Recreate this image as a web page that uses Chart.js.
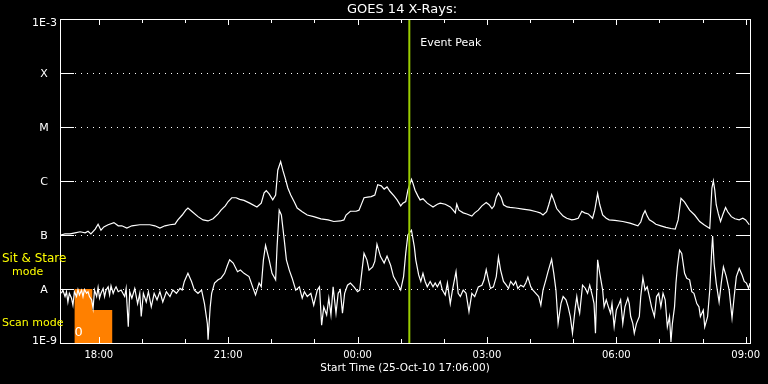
<!DOCTYPE html>
<html>
<head>
<meta charset="utf-8">
<title>GOES 14 X-Rays</title>
<script src="https://cdn.jsdelivr.net/npm/chart.js@4.4.1/dist/chart.umd.min.js"></script>
<style>
  html, body { margin: 0; padding: 0; background: #000; }
  canvas { display: block; }
</style>
</head>
<body>
<canvas id="goesChart" width="768" height="384"></canvas>
<script>
// times are minutes after 25-Oct-10 17:06:00, values are log10 of the flux (W/m2)
const longTimes = [
  1, 7, 14, 21, 28, 35, 39, 43, 49, 53,
  57, 61, 67, 75, 81, 86, 93, 100, 111, 125,
  132, 139, 146, 153, 160, 164, 170, 175, 178, 184,
  192, 199, 206, 213, 220, 224, 230, 234, 239, 245,
  250, 256, 264, 274, 280, 284, 287, 291, 296, 300,
  303, 307, 310, 314, 317, 321, 326, 330, 337, 344,
  353, 363, 373, 381, 390, 395, 398, 404, 412, 416,
  420, 423, 428, 433, 438, 442, 447, 451, 455, 459,
  465, 469, 474, 477, 481, 484, 489, 491, 494, 498,
  501, 505, 511, 519, 525, 529, 536, 543, 547, 550,
  552, 555, 561, 566, 573, 577, 582, 587, 593, 597,
  601, 604, 607, 610, 614, 617, 622, 626, 634, 644,
  654, 663, 668, 672, 677, 680, 684, 687, 691, 696,
  700, 705, 712, 716, 721, 726, 730, 735, 741, 744,
  748, 751, 755, 760, 764, 772, 783, 793, 804, 808,
  811, 814, 817, 820, 825, 829, 836, 843, 850, 856,
  860, 864, 869, 876, 883, 890, 896, 904, 905, 907,
  909, 911, 913, 916, 919, 922, 926, 929, 934, 939,
  945, 950, 954, 959
];
const longFlux = [
  -7.00, -6.98, -6.98, -6.96, -6.94, -6.96, -6.93, -6.98, -6.89, -6.80,
  -6.91, -6.85, -6.81, -6.77, -6.83, -6.83, -6.87, -6.83, -6.81, -6.81,
  -6.83, -6.87, -6.83, -6.81, -6.80, -6.72, -6.63, -6.54, -6.50, -6.57,
  -6.66, -6.72, -6.74, -6.70, -6.61, -6.54, -6.46, -6.38, -6.31, -6.31,
  -6.34, -6.36, -6.41, -6.48, -6.41, -6.22, -6.18, -6.24, -6.35, -6.26,
  -5.80, -5.64, -5.80, -5.98, -6.13, -6.26, -6.39, -6.50, -6.57, -6.63,
  -6.66, -6.70, -6.72, -6.75, -6.74, -6.72, -6.63, -6.56, -6.56, -6.54,
  -6.41, -6.31, -6.30, -6.29, -6.26, -6.07, -6.09, -6.15, -6.11, -6.19,
  -6.28, -6.35, -6.46, -6.41, -6.38, -6.17, -5.97, -6.04, -6.17, -6.28,
  -6.35, -6.33, -6.41, -6.48, -6.43, -6.41, -6.43, -6.48, -6.54, -6.59,
  -6.43, -6.54, -6.59, -6.61, -6.65, -6.59, -6.54, -6.46, -6.40, -6.44,
  -6.51, -6.46, -6.30, -6.22, -6.31, -6.44, -6.48, -6.49, -6.50, -6.52,
  -6.54, -6.57, -6.59, -6.63, -6.57, -6.44, -6.25, -6.35, -6.51, -6.59,
  -6.65, -6.69, -6.72, -6.71, -6.69, -6.56, -6.59, -6.61, -6.69, -6.54,
  -6.23, -6.44, -6.63, -6.69, -6.72, -6.73, -6.75, -6.78, -6.83, -6.76,
  -6.63, -6.55, -6.65, -6.72, -6.76, -6.80, -6.83, -6.86, -6.88, -6.89,
  -6.72, -6.32, -6.39, -6.54, -6.63, -6.75, -6.81, -6.88, -6.63, -6.13,
  -6.00, -6.17, -6.44, -6.61, -6.75, -6.63, -6.49, -6.57, -6.66, -6.70,
  -6.72, -6.69, -6.72, -6.81
];

const shortTimes = [
  2, 4, 7, 9, 11, 13, 16, 18, 20, 23,
  25, 27, 30, 32, 34, 37, 39, 41, 44, 46,
  48, 51, 53, 55, 57, 60, 62, 64, 67, 69,
  71, 74, 76, 78, 81, 85, 90, 92, 95, 97,
  100, 104, 108, 111, 113, 116, 120, 123, 127, 131,
  135, 139, 143, 148, 153, 157, 162, 167, 170, 173,
  178, 183, 187, 192, 197, 201, 205, 206, 209, 211,
  215, 220, 224, 229, 233, 236, 241, 247, 251, 256,
  263, 268, 272, 277, 280, 283, 286, 291, 295, 300,
  302, 305, 308, 312, 315, 319, 323, 328, 333, 337,
  340, 344, 349, 353, 358, 361, 364, 367, 371, 374,
  377, 380, 384, 387, 390, 393, 396, 400, 404, 409,
  414, 417, 423, 427, 430, 435, 438, 441, 446, 451,
  455, 460, 464, 469, 474, 478, 481, 484, 489, 493,
  495, 499, 502, 505, 508, 511, 515, 519, 522, 525,
  529, 532, 536, 539, 543, 546, 551, 554, 557, 561,
  565, 569, 573, 577, 582, 587, 590, 593, 596, 599,
  603, 607, 610, 613, 617, 621, 624, 627, 631, 634,
  637, 641, 645, 648, 651, 655, 658, 662, 666, 669,
  672, 676, 679, 684, 687, 690, 693, 697, 700, 704,
  707, 710, 713, 717, 719, 721, 723, 727, 731, 734,
  737, 741, 743, 745, 748, 751, 755, 757, 760, 763,
  766, 768, 771, 774, 778, 780, 783, 786, 790, 792,
  794, 797, 799, 802, 806, 808, 811, 814, 817, 820,
  823, 827, 830, 833, 836, 839, 842, 845, 848, 850,
  852, 855, 857, 859, 862, 865, 869, 872, 876, 879,
  882, 886, 889, 891, 895, 897, 901, 904, 907, 908,
  910, 913, 917, 920, 923, 927, 931, 935, 938, 941,
  945, 949, 952, 955, 958, 960
];
const shortFlux = [
  -8.08, -8.02, -8.14, -8.05, -8.24, -8.08, -8.17, -8.30, -8.05, -8.14,
  -8.01, -8.11, -8.02, -8.14, -8.01, -8.08, -8.05, -8.14, -8.20, -8.36,
  -8.02, -8.14, -7.97, -8.17, -8.08, -7.99, -8.14, -8.02, -7.96, -8.11,
  -7.94, -8.08, -8.01, -7.96, -8.05, -8.02, -8.14, -7.99, -8.70, -8.05,
  -8.17, -7.99, -8.27, -8.08, -8.51, -8.08, -8.24, -8.05, -8.33, -8.08,
  -8.20, -8.05, -8.24, -8.05, -8.14, -8.02, -8.08, -7.99, -8.02, -7.86,
  -7.71, -7.86, -8.02, -8.08, -8.02, -8.27, -8.64, -8.94, -8.33, -8.08,
  -7.89, -7.83, -7.80, -7.71, -7.56, -7.46, -7.52, -7.68, -7.65, -7.71,
  -7.77, -7.96, -8.11, -7.89, -7.96, -7.46, -7.19, -7.46, -7.71, -7.83,
  -7.22, -6.54, -6.63, -7.09, -7.46, -7.65, -7.80, -8.02, -7.96, -8.17,
  -8.05, -8.14, -8.08, -8.30, -8.02, -7.96, -8.67, -8.33, -8.48, -8.17,
  -8.48, -7.96, -8.45, -8.08, -8.02, -8.45, -8.08, -7.93, -7.89, -7.96,
  -8.05, -8.02, -7.34, -7.46, -7.65, -7.59, -7.49, -7.17, -7.40, -7.52,
  -7.39, -7.56, -7.77, -7.89, -8.02, -7.77, -7.34, -7.00, -6.91, -7.22,
  -7.46, -7.74, -7.86, -7.71, -7.86, -7.96, -7.86, -7.96, -7.89, -7.96,
  -7.86, -8.02, -8.11, -7.89, -8.27, -8.02, -7.68, -8.08, -8.14, -8.02,
  -8.08, -8.42, -8.08, -8.14, -7.96, -7.93, -7.83, -7.64, -7.83, -7.99,
  -7.96, -7.77, -7.41, -7.65, -7.86, -7.93, -7.99, -7.86, -7.93, -7.86,
  -7.99, -7.93, -7.96, -7.89, -7.78, -7.96, -8.02, -8.08, -8.14, -8.30,
  -8.02, -7.83, -7.68, -7.45, -7.71, -8.02, -8.64, -8.27, -8.14, -8.20,
  -8.33, -8.51, -8.82, -8.33, -8.14, -8.33, -8.45, -7.93, -7.99, -8.08,
  -7.93, -8.14, -8.27, -8.82, -7.46, -7.71, -8.02, -8.33, -8.20, -8.33,
  -8.45, -8.27, -8.70, -8.39, -8.27, -8.20, -8.64, -8.33, -8.17, -8.27,
  -8.51, -8.64, -8.82, -8.64, -8.51, -8.14, -7.79, -8.02, -7.96, -8.14,
  -8.33, -8.51, -8.14, -8.08, -8.33, -8.08, -8.20, -8.70, -8.51, -8.98,
  -8.64, -8.33, -7.89, -7.59, -7.28, -7.34, -7.71, -7.80, -7.83, -8.05,
  -8.08, -8.27, -8.33, -8.51, -8.39, -8.70, -8.51, -8.02, -7.22, -7.02,
  -7.52, -7.89, -8.24, -7.89, -7.59, -7.77, -8.02, -8.54, -8.14, -7.77,
  -7.62, -7.74, -7.86, -7.89, -7.99, -7.89
];

// scan mode block at the start of the period
const scanTimes = [20, 45, 73];
const scanFlux = [-8.0, -8.39, -8.39];

const eventPeak = 486; // 01:12

const hourTicks = [54, 114, 174, 234, 294, 354, 414, 474, 534, 594, 654, 714, 774, 834, 894, 954];
const timeTicks = [54, 234, 414, 594, 774, 954];
const timeLabels = ['18:00', '21:00', '00:00', '03:00', '06:00', '09:00'];

const fluxLevels = [-9, -8, -7, -6, -5, -4, -3];
const fluxLabels = ['1E-9', 'A', 'B', 'C', 'M', 'X', '1E-3'];

const toPoints = (xs, ys) => xs.map((t, i) => ({ x: t, y: ys[i] }));

const goesFrame = {
    id: 'goesFrame',
    beforeDraw(chart) {
        const ctx = chart.ctx;
        ctx.save();
        ctx.fillStyle = '#000';
        ctx.fillRect(0, 0, chart.width, chart.height);
        ctx.restore();
    },
    beforeDatasetsDraw(chart) {
        const { ctx, chartArea: a, scales: { y } } = chart;
        ctx.save();
        ctx.strokeStyle = '#fff';
        ctx.lineWidth = 1;
        ctx.setLineDash([1, 5]);
        fluxLevels.slice(1, -1).forEach(lv => {
            const py = Math.round(y.getPixelForValue(lv)) + 0.5;
            ctx.beginPath();
            ctx.moveTo(a.left + 15, py);
            ctx.lineTo(a.right - 15, py);
            ctx.stroke();
        });
        ctx.restore();
    },
    afterDatasetsDraw(chart) {
        const { ctx, chartArea: a, scales: { x, y } } = chart;
        ctx.save();

        // event peak marker
        const ex = x.getPixelForValue(eventPeak);
        ctx.strokeStyle = '#9acd00';
        ctx.lineWidth = 2;
        ctx.beginPath();
        ctx.moveTo(ex, a.top);
        ctx.lineTo(ex, a.bottom);
        ctx.stroke();

        // frame
        ctx.strokeStyle = '#fff';
        ctx.lineWidth = 1;
        ctx.strokeRect(a.left + 0.5, a.top + 0.5, a.right - a.left, a.bottom - a.top);

        // time ticks, top and bottom
        ctx.beginPath();
        hourTicks.forEach(t => {
            const px = Math.round(x.getPixelForValue(t)) + 0.5;
            const len = timeTicks.includes(t) ? 6 : 4;
            ctx.moveTo(px, a.bottom);
            ctx.lineTo(px, a.bottom - len);
            ctx.moveTo(px, a.top);
            ctx.lineTo(px, a.top + len);
        });
        // flux ticks, left and right
        fluxLevels.slice(1, -1).forEach(lv => {
            const py = Math.round(y.getPixelForValue(lv)) + 0.5;
            ctx.moveTo(a.left, py);
            ctx.lineTo(a.left + 14, py);
            ctx.moveTo(a.right - 14, py);
            ctx.lineTo(a.right, py);
        });
        ctx.stroke();

        ctx.fillStyle = '#fff';
        ctx.textBaseline = 'middle';

        // flux labels
        ctx.font = '11px "DejaVu Sans"';
        fluxLevels.forEach((lv, i) => {
            let py = y.getPixelForValue(lv) + 1.5;
            py = Math.max(a.top + 4, Math.min(a.bottom - 2, py));
            if (fluxLabels[i].startsWith('1E')) {
                ctx.textAlign = 'right';
                ctx.fillText(fluxLabels[i], a.left - 3, py);
            } else {
                ctx.textAlign = 'center';
                ctx.fillText(fluxLabels[i], a.left - 16, py);
            }
        });

        // time labels
        ctx.font = '10px "DejaVu Sans"';
        ctx.textAlign = 'center';
        timeTicks.forEach((t, i) => {
            ctx.fillText(timeLabels[i], x.getPixelForValue(t), a.bottom + 12);
        });

        const mid = (a.left + a.right) / 2;
        ctx.font = '10.5px "DejaVu Sans"';
        ctx.fillText('Start Time (25-Oct-10 17:06:00)', mid, a.bottom + 25);

        ctx.font = '13px "DejaVu Sans"';
        ctx.fillText('GOES 14 X-Rays:', mid - 3, a.top - 9);

        ctx.font = '11px "DejaVu Sans"';
        ctx.textAlign = 'left';
        ctx.fillText('Event Peak', ex + 11, a.top + 24);

        // mode labels
        ctx.fillStyle = '#ffff00';
        ctx.font = '12px "DejaVu Sans"';
        ctx.fillText('Sit & Stare', 2, y.getPixelForValue(-7.44));
        ctx.font = '11px "DejaVu Sans"';
        ctx.fillText('mode', 12, y.getPixelForValue(-7.68));
        ctx.fillText('Scan mode', 2, y.getPixelForValue(-8.63));

        ctx.fillStyle = '#fff';
        ctx.font = '13px "DejaVu Sans"';
        ctx.textAlign = 'center';
        ctx.fillText('0', x.getPixelForValue(26), y.getPixelForValue(-8.8));

        ctx.restore();
    }
};

const ctx = document.getElementById('goesChart').getContext('2d');
new Chart(ctx, {
    type: 'line',
    data: {
        datasets: [
            {
                label: 'long',
                data: toPoints(longTimes, longFlux),
                borderColor: '#fff',
                borderWidth: 1.2,
                order: 1
            },
            {
                label: 'short',
                data: toPoints(shortTimes, shortFlux),
                borderColor: '#fff',
                borderWidth: 1.2,
                order: 1
            },
            {
                label: 'scan',
                data: toPoints(scanTimes, scanFlux),
                stepped: true,
                borderWidth: 0,
                borderColor: 'rgba(0,0,0,0)',
                backgroundColor: '#ff8000',
                fill: 'start',
                order: 2
            }
        ]
    },
    options: {
        responsive: false,
        animation: false,
        devicePixelRatio: 1,
        events: [],
        layout: { padding: { left: 60, right: 18, top: 19, bottom: 41 } },
        elements: { point: { radius: 0 }, line: { tension: 0 } },
        scales: {
            x: { type: 'linear', min: 0, max: 960, display: false },
            y: { type: 'linear', min: -9, max: -3, display: false }
        },
        plugins: { legend: { display: false }, tooltip: { enabled: false } }
    },
    plugins: [goesFrame]
});
</script>
</body>
</html>
